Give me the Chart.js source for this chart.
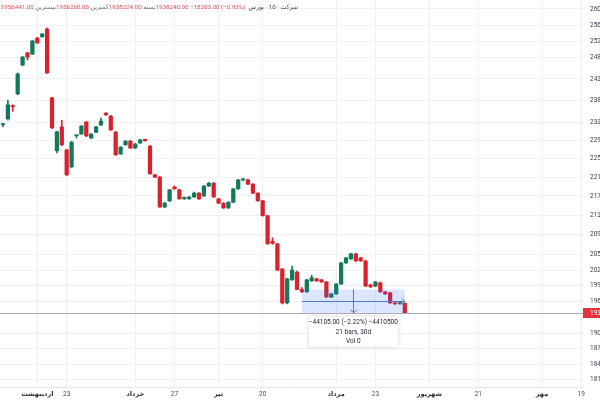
<!DOCTYPE html>
<html>
<head>
<meta charset="utf-8">
<script src="https://cdn.jsdelivr.net/npm/chart.js@4.4.0/dist/chart.umd.min.js"></script>
<style>
    html, body { margin: 0; padding: 0; background: #fff; }
    #wrap { width: 600px; height: 400px; }
</style>
</head>
<body>
<div id="wrap"><canvas id="chart" width="600" height="400"></canvas></div>
<script>
// daily candles (rial), oldest first
const opens = [2325000, 2338000, 2368000, 2395000, 2463000, 2492000, 2489000, 2528000, 2531000, 2550000,
    2386000, 2267000, 2320000, 2269000, 2232000, 2300000, 2304000, 2331000, 2295000, 2308000,
    2324000, 2351000, 2344000, 2308000, 2260000, 2280000, 2288000, 2273000, 2284000, 2292000,
    2277000, 2215000, 2210000, 2147000, 2160000, 2189000, 2183000, 2164000, 2164000, 2168000,
    2176000, 2170000, 2191000, 2197000, 2164000, 2155000, 2145000, 2157000, 2185000, 2204000,
    2204000, 2195000, 2176000, 2160000, 2129000, 2077000, 2072000, 2022000, 1957000, 2001000,
    2016000, 1982345, 1978000, 1999000, 2003000, 2001000, 1997000, 1968000, 1974000, 1993000,
    2034000, 2042000, 2052000, 2044000, 2038000, 1991000, 1989000, 1995000, 1978000, 1976000,
    1957000, 1956000, 1956441];
const highs = [2328000, 2381000, 2370000, 2444000, 2484000, 2493000, 2522000, 2530000, 2539000, 2553000,
    2387000, 2310000, 2335000, 2270000, 2288000, 2302000, 2323000, 2332000, 2305000, 2321000,
    2340000, 2352000, 2346000, 2310000, 2276000, 2290000, 2290000, 2283000, 2292000, 2293000,
    2279000, 2216000, 2211000, 2157000, 2184000, 2191000, 2184000, 2168000, 2169000, 2178000,
    2177000, 2192000, 2199000, 2199000, 2165000, 2156000, 2158000, 2186000, 2205000, 2207000,
    2206000, 2196000, 2177000, 2161000, 2130000, 2084000, 2073000, 2023000, 2004000, 2028000,
    2018000, 1986000, 2002000, 2010000, 2004000, 2002000, 1998000, 1975000, 1994000, 2035000,
    2045000, 2053000, 2053000, 2045000, 2039000, 1993000, 1998000, 1997000, 1979000, 1977000,
    1958000, 1958000, 1956441];
const lows = [2320000, 2335000, 2355000, 2393000, 2461000, 2475000, 2488000, 2515000, 2530000, 2443000,
    2316000, 2262000, 2278000, 2213000, 2230000, 2295000, 2303000, 2298000, 2294000, 2307000,
    2323000, 2346000, 2312000, 2257000, 2259000, 2279000, 2272000, 2272000, 2283000, 2288000,
    2216000, 2209000, 2146000, 2146000, 2158000, 2184000, 2163000, 2163000, 2163000, 2167000,
    2163000, 2169000, 2190000, 2167000, 2154000, 2144000, 2144000, 2156000, 2184000, 2202000,
    2194000, 2175000, 2159000, 2128000, 2071000, 2071000, 2019000, 1955000, 1955000, 2000000,
    1982000, 1977000, 1977000, 1998000, 1998000, 1996000, 1967000, 1967000, 1973000, 1992000,
    2033000, 2041000, 2037000, 2037000, 1988000, 1986000, 1988000, 1977000, 1973000, 1956000,
    1954000, 1954000, 1938224];
const closes = [2327000, 2370000, 2366000, 2442000, 2482000, 2482000, 2521000, 2516000, 2538000, 2444000,
    2318000, 2309000, 2280000, 2215000, 2286000, 2302000, 2322000, 2300000, 2304000, 2320000,
    2333000, 2347000, 2313000, 2258000, 2275000, 2288000, 2273000, 2282000, 2291000, 2289000,
    2217000, 2210000, 2147000, 2155000, 2183000, 2185000, 2164000, 2167000, 2168000, 2176000,
    2164000, 2191000, 2197000, 2168000, 2155000, 2145000, 2157000, 2185000, 2204000, 2205000,
    2195000, 2176000, 2160000, 2129000, 2072000, 2073000, 2020000, 1957000, 2003000, 2020000,
    1982345, 1978000, 2001000, 2005000, 1999000, 1997000, 1968000, 1974000, 1993000, 2034000,
    2044000, 2052000, 2038000, 2038000, 1989000, 1988000, 1997000, 1978000, 1974000, 1957000,
    1955000, 1956443, 1938240];

// time axis labels (bar index -> text)
const dateTickIdx = [7, 13, 27, 35, 44, 53, 68, 76, 87, 97, 110, 118];
const dateTickText = ['اردیبهشت', '23', 'خرداد', '27', 'تیر', '20', 'مرداد', '23', 'شهریور', '21', 'مهر', '19'];
const monthTicks = ['اردیبهشت', 'خرداد', 'تیر', 'مرداد', 'شهریور', 'مهر'];

// price axis labels
const priceTicks = [2600000, 2560000, 2520000, 2480000, 2430000, 2380000, 2330000, 2290000, 2250000, 2210000,
    2170000, 2130000, 2090000, 2050000, 2020000, 1990000, 1960000, 1900000, 1872000, 1844000, 1818000];

// header legend
const legendParts = [
    ['باز', 'label'], ['1956441.00', 'value'],
    [' بیشترین', 'label'], ['1956200.00', 'value'],
    [' کمترین', 'label'], ['1938224.00', 'value'],
    [' بسته', 'label'], ['1938240.00', 'value'],
    [' −18203.00 (−0.93%) ', 'value'],
    [' بورس', 'name'], [' · 10 · ', 'name'], ['شرکت', 'name']
];

// date/price range measurement
const rangeFromIdx = 61;
const rangeToIdx = 82;
const rangeFromPrice = 1982345;
const rangeToPrice = 1938240;
const rangeLines = ['−44105.00 (−2.22%) −4410500', '21 bars, 30d', 'Vol 0'];

const GREEN = '#13795b';
const RED = '#d9222d';
const FONT = "Roboto, 'DejaVu Sans', sans-serif";

const candleColors = opens.map((o, i) => closes[i] >= o ? GREEN : RED);
const bodyData = opens.map((o, i) => ({ x: i, y: [o, closes[i]] }));
const wickData = highs.map((h, i) => ({ x: i, y: [lows[i], h] }));
const lastClose = closes[closes.length - 1];

const overlay = {
    id: 'overlay',
    afterDatasetsDraw(chart) {
        const c = chart.ctx;
        const xs = chart.scales.x;
        const ys = chart.scales.y;
        const area = chart.chartArea;

        // last price line
        const py = Math.round(ys.getPixelForValue(lastClose)) + 0.5;
        c.save();
        c.strokeStyle = '#a9abb3';
        c.lineWidth = 1;
        c.beginPath();
        c.moveTo(area.left, py);
        c.lineTo(area.right, py);
        c.stroke();

        // range box
        const x0 = xs.getPixelForValue(rangeFromIdx);
        const x1 = xs.getPixelForValue(rangeToIdx);
        const y0 = ys.getPixelForValue(rangeFromPrice);
        const y1 = ys.getPixelForValue(rangeToPrice);
        const xm = (x0 + x1) / 2;
        const ym = Math.round((y0 + y1) / 2) + 0.5;
        c.fillStyle = 'rgba(41, 98, 255, 0.17)';
        c.fillRect(x0, y0, x1 - x0, y1 - y0);
        c.strokeStyle = '#4f79c4';
        c.beginPath();
        c.moveTo(x0, ym);
        c.lineTo(x1, ym);
        c.moveTo(x1 - 3, ym - 3);
        c.lineTo(x1, ym);
        c.lineTo(x1 - 3, ym + 3);
        c.moveTo(Math.round(xm) + 0.5, y0);
        c.lineTo(Math.round(xm) + 0.5, y1);
        c.moveTo(xm - 3, y1 - 3);
        c.lineTo(xm + 0.5, y1);
        c.lineTo(xm + 3.5, y1 - 3);
        c.stroke();

        // range label
        const bw = 89, bh = 30;
        const bx = xm - bw / 2, by = y1 + 4;
        c.shadowColor = 'rgba(0,0,0,0.18)';
        c.shadowBlur = 4;
        c.fillStyle = '#fff';
        c.beginPath();
        c.roundRect(bx, by, bw, bh, 2);
        c.fill();
        c.shadowBlur = 0;
        c.fillStyle = '#1f2330';
        c.font = '6.5px ' + FONT;
        c.textAlign = 'center';
        c.textBaseline = 'middle';
        rangeLines.forEach((t, i) => c.fillText(t, xm, by + 6 + i * 9.5));
        c.restore();
    },
    afterDraw(chart) {
        const c = chart.ctx;
        const xs = chart.scales.x;
        const ys = chart.scales.y;
        const area = chart.chartArea;
        c.save();
        c.direction = 'ltr';
        c.textBaseline = 'middle';

        // time labels
        c.textAlign = 'center';
        dateTickIdx.forEach((v, i) => {
            const t = dateTickText[i];
            const isMonth = monthTicks.includes(t);
            c.font = (isMonth ? 'bold ' : '') + '6.5px ' + FONT;
            c.fillStyle = isMonth ? '#2a2d36' : '#4a4d57';
            c.fillText(t, xs.getPixelForValue(v), area.bottom + 7);
        });

        // price labels, cut by the canvas edge
        c.textAlign = 'left';
        c.font = '6.5px ' + FONT;
        c.fillStyle = '#3d404a';
        priceTicks.forEach(v => c.fillText(String(v), area.right + 6, ys.getPixelForValue(v)));

        // last price tag on the axis
        const py = Math.round(ys.getPixelForValue(lastClose));
        c.fillStyle = '#e3313b';
        c.fillRect(area.right - 1, py - 5, 20, 10);
        c.fillStyle = '#fff';
        c.fillText(String(lastClose), area.right + 6, py + 0.5);

        // legend, right aligned, overflowing on the left
        c.font = '6.2px ' + FONT;
        let x = 298;
        for (let i = legendParts.length - 1; i >= 0; i--) {
            const [t, kind] = legendParts[i];
            x -= c.measureText(t).width;
            c.fillStyle = kind === 'value' ? '#e0505a' : (kind === 'name' ? '#3a3d47' : '#6f7280');
            c.fillText(t, x, 7);
        }
        c.restore();
    }
};

const ctx = document.getElementById('chart').getContext('2d');
new Chart(ctx, {
    type: 'bar',
    data: {
        datasets: [{
            data: bodyData,
            backgroundColor: candleColors,
            barThickness: 3.6,
            minBarLength: 1,
            grouped: false,
            order: 0
        }, {
            data: wickData,
            backgroundColor: candleColors,
            barThickness: 1,
            grouped: false,
            order: 1
        }]
    },
    options: {
        responsive: false,
        animation: false,
        layout: { padding: 0 },
        plugins: {
            legend: { display: false },
            tooltip: { enabled: false }
        },
        scales: {
            x: {
                type: 'linear',
                min: -0.61,
                max: 118.57,
                bounds: 'data',
                offset: false,
                grid: { color: '#f1f1f3', drawTicks: false, offset: false },
                border: { color: '#e4e5e8' },
                afterBuildTicks: function(scale) {
                    scale.ticks = dateTickIdx.map(v => ({ value: v }));
                },
                afterFit: function(scale) {
                    scale.height = 13;
                    scale.paddingLeft = 0;
                    scale.paddingRight = 0;
                },
                // labels are drawn by the overlay plugin
                ticks: { display: false, autoSkip: false, maxRotation: 0 }
            },
            y: {
                type: 'logarithmic',
                position: 'right',
                min: 1804100,
                max: 2622700,
                bounds: 'data',
                grid: { color: '#f1f1f3', drawTicks: false },
                border: { display: false },
                afterBuildTicks: function(scale) {
                    scale.ticks = priceTicks.slice().sort((a, b) => a - b).map(v => ({ value: v }));
                },
                afterFit: function(scale) {
                    scale.width = 16;
                    scale.paddingTop = 0;
                    scale.paddingBottom = 0;
                },
                ticks: { display: false, autoSkip: false }
            }
        }
    },
    plugins: [overlay]
});
</script>
</body>
</html>
